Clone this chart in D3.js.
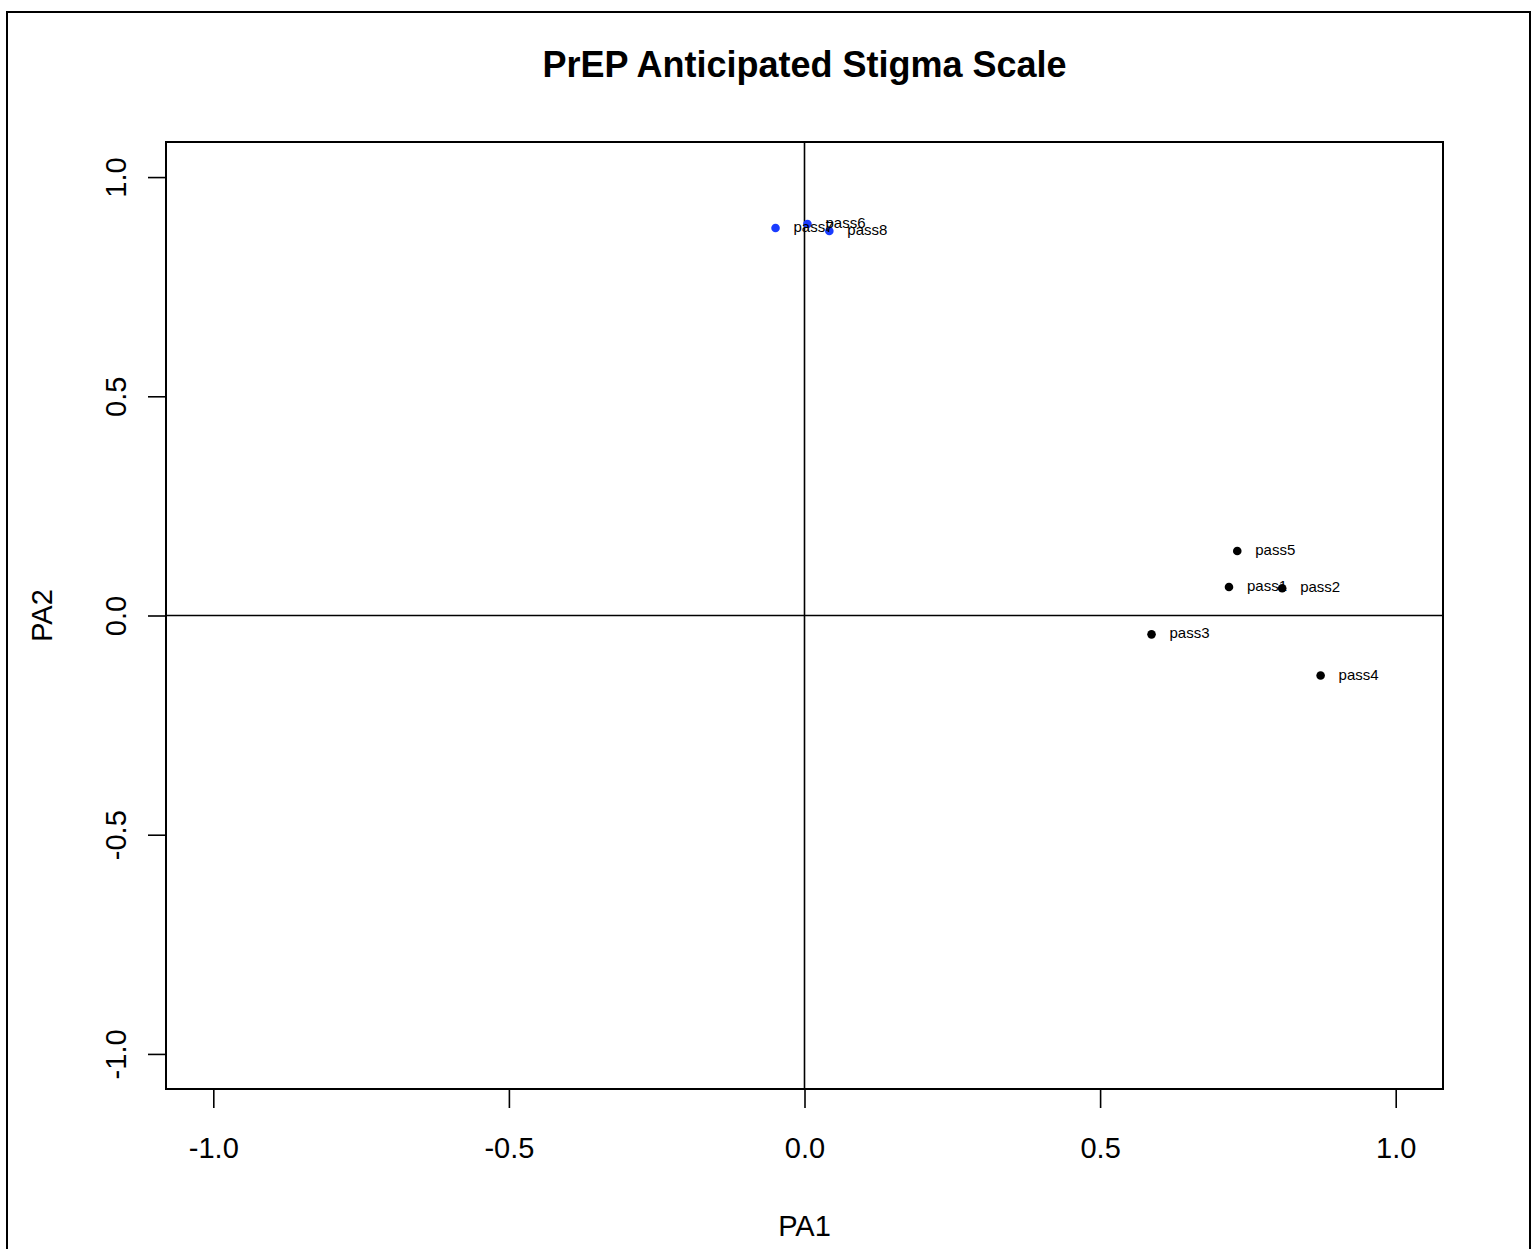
<!DOCTYPE html>
<html lang="en">
<head>
  <meta charset="UTF-8">
  <title>PrEP Anticipated Stigma Scale</title>
  <style>
body { margin: 0; background: #fff; }
svg { display: block; font-family: "Liberation Sans", Arial, sans-serif; }
  </style>
</head>
<body>
<div id="wrapper"></div>
<script src="https://cdnjs.cloudflare.com/ajax/libs/d3/7.8.5/d3.min.js"></script>
<script>

// item loadings
const items = ["pass1", "pass2", "pass3", "pass4", "pass5", "pass6", "pass7", "pass8"]
const pa1 = [0.718, 0.808, 0.587, 0.873, 0.732, 0.005, -0.049, 0.042]
const pa2 = [0.065, 0.062, -0.043, -0.137, 0.147, 0.893, 0.884, 0.877]
// which factor each item loads on (1 = PA1, 2 = PA2)
const cluster = [1, 1, 1, 1, 1, 2, 2, 2]
const tickValues = [-1, -0.5, 0, 0.5, 1]

const dataset = items.map((d, i) => ({ name: d, x: pa1[i], y: pa2[i], cl: cluster[i] }))

// 1. dimensions
const dimensions = {
  width: 1536,
  height: 1249,
  plot: { left: 166, right: 1443, top: 142, bottom: 1089 },
}

const wrapper = d3.select("#wrapper")
  .append("svg")
  .attr("width", dimensions.width)
  .attr("height", dimensions.height)

// outer frame of the figure
wrapper.append("rect")
  .attr("x", 7)
  .attr("y", 12)
  .attr("width", 1523)
  .attr("height", 1260)
  .attr("fill", "none")
  .attr("stroke", "#000")
  .attr("stroke-width", 2)

// 2. scales
const xScale = d3.scaleLinear()
  .domain([-1.08, 1.08])
  .range([dimensions.plot.left, dimensions.plot.right])

const yScale = d3.scaleLinear()
  .domain([-1.08, 1.08])
  .range([dimensions.plot.bottom, dimensions.plot.top])

const colorScale = d3.scaleOrdinal()
  .domain([1, 2])
  .range(["#000000", "#1a3cff"])

// 3. axes
const fmt = d => d.toFixed(1)

const xAxis = wrapper.append("g")
  .attr("transform", `translate(0,${dimensions.plot.bottom})`)
  .call(d3.axisBottom(xScale).tickValues(tickValues).tickFormat(fmt)
    .tickSize(19).tickSizeOuter(0).tickPadding(29))
xAxis.select(".domain").remove()
xAxis.selectAll(".tick line").attr("stroke", "#000").attr("stroke-width", 1.6)
xAxis.selectAll(".tick text")
  .attr("fill", "#000")
  .style("font-size", "29px")
  .style("font-family", "\"Liberation Sans\", Arial, sans-serif")

const yAxis = wrapper.append("g")
  .attr("transform", `translate(${dimensions.plot.left},0)`)
  .call(d3.axisLeft(yScale).tickValues(tickValues).tickFormat(fmt)
    .tickSize(18).tickSizeOuter(0))
yAxis.select(".domain").remove()
yAxis.selectAll(".tick line").attr("stroke", "#000").attr("stroke-width", 1.6)
yAxis.selectAll(".tick text")
  .attr("x", null)
  .attr("dy", null)
  .attr("transform", "translate(-40,0) rotate(-90)")
  .attr("text-anchor", "middle")
  .attr("fill", "#000")
  .style("font-size", "29px")
  .style("font-family", "\"Liberation Sans\", Arial, sans-serif")

// plot box
wrapper.append("rect")
  .attr("x", dimensions.plot.left)
  .attr("y", dimensions.plot.top)
  .attr("width", dimensions.plot.right - dimensions.plot.left)
  .attr("height", dimensions.plot.bottom - dimensions.plot.top)
  .attr("fill", "none")
  .attr("stroke", "#000")
  .attr("stroke-width", 2)

// zero lines
wrapper.append("line")
  .attr("x1", dimensions.plot.left).attr("x2", dimensions.plot.right)
  .attr("y1", yScale(0)).attr("y2", yScale(0))
  .attr("stroke", "#000").attr("stroke-width", 1.6)
wrapper.append("line")
  .attr("x1", xScale(0)).attr("x2", xScale(0))
  .attr("y1", dimensions.plot.top).attr("y2", dimensions.plot.bottom)
  .attr("stroke", "#000").attr("stroke-width", 1.6)

// 4. points + labels
wrapper.selectAll("circle.pt")
  .data(dataset)
  .join("circle")
  .attr("class", "pt")
  .attr("cx", d => xScale(d.x))
  .attr("cy", d => yScale(d.y))
  .attr("r", 4.3)
  .attr("fill", d => colorScale(d.cl))

wrapper.selectAll("text.lbl")
  .data(dataset)
  .join("text")
  .attr("class", "lbl")
  .attr("x", d => xScale(d.x) + 18)
  .attr("y", d => yScale(d.y) + 4)
  .style("font-size", "15px")
  .attr("fill", "#000")
  .text(d => d.name)

// 5. titles
wrapper.append("text")
  .attr("x", xScale(0))
  .attr("y", 77)
  .attr("text-anchor", "middle")
  .style("font-size", "36px")
  .style("font-weight", "bold")
  .text("PrEP Anticipated Stigma Scale")

wrapper.append("text")
  .attr("x", xScale(0))
  .attr("y", 1236)
  .attr("text-anchor", "middle")
  .style("font-size", "29px")
  .text("PA1")

wrapper.append("text")
  .attr("transform", `translate(52,${yScale(0)}) rotate(-90)`)
  .attr("text-anchor", "middle")
  .style("font-size", "29px")
  .text("PA2")

</script>
</body>
</html>
